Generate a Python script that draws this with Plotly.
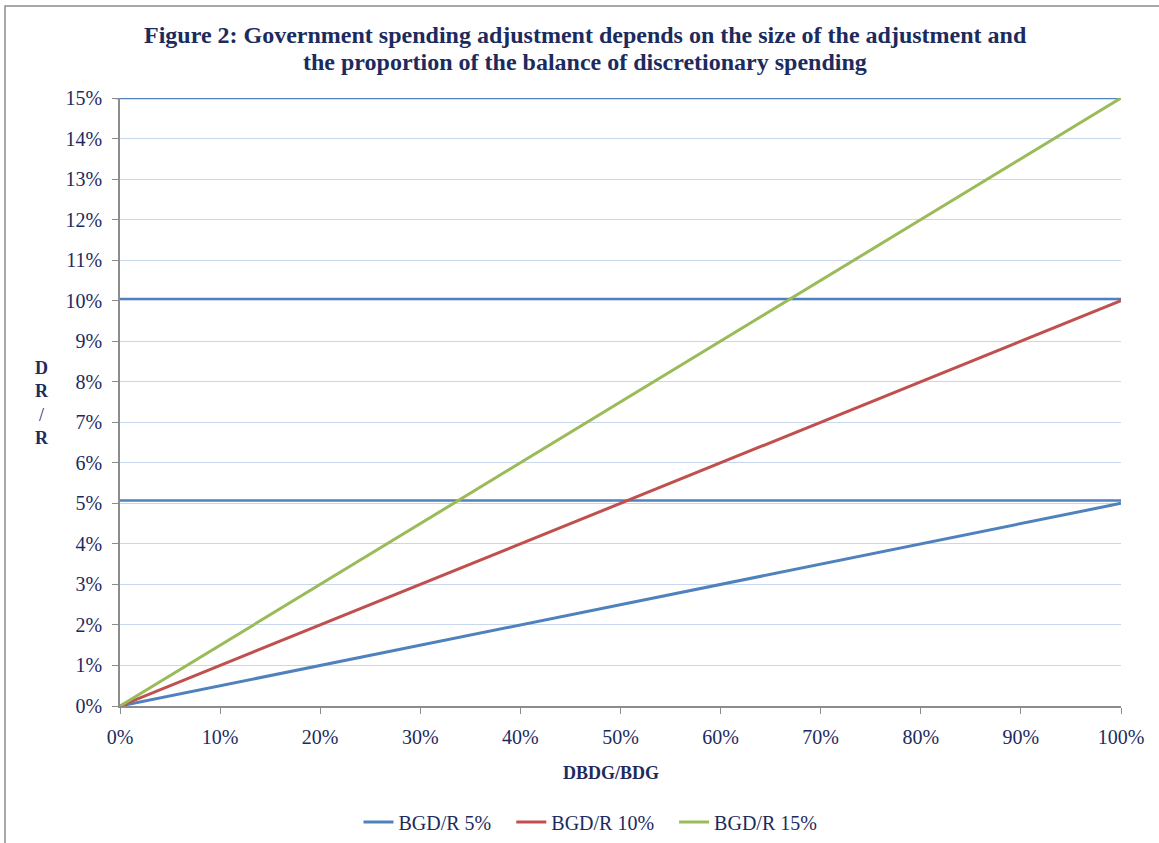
import plotly.graph_objects as go

# Data
x_share = [0.0, 0.1, 0.2, 0.3, 0.4, 0.5, 0.6, 0.7, 0.8, 0.9, 1.0]
bgd_5 = [0.0, 0.005, 0.01, 0.015, 0.02, 0.025, 0.03, 0.035, 0.04, 0.045, 0.05]
bgd_10 = [0.0, 0.01, 0.02, 0.03, 0.04, 0.05, 0.06, 0.07, 0.08, 0.09, 0.10]
bgd_15 = [0.0, 0.015, 0.03, 0.045, 0.06, 0.075, 0.09, 0.105, 0.12, 0.135, 0.15]
series_names = ["BGD/R 5%", "BGD/R 10%", "BGD/R 15%"]
ref_levels = [0.0507, 0.1004, 0.15]
x_ticks = [0.0, 0.1, 0.2, 0.3, 0.4, 0.5, 0.6, 0.7, 0.8, 0.9, 1.0]
x_tick_labels = ["0%", "10%", "20%", "30%", "40%", "50%", "60%", "70%", "80%", "90%", "100%"]
y_ticks = [i / 100 for i in range(16)]
y_tick_labels = [f"{i}%" for i in range(16)]
title_lines = [
    "Figure 2: Government spending adjustment depends on the size of the adjustment and",
    "the proportion of the balance of discretionary spending",
]

colors = ["#4F81BD", "#C0504D", "#9BBB59"]
text_color = "#1c2b5e"
font_family = "Liberation Serif, Times New Roman, serif"

fig = go.Figure()
for name, ys, c in zip(series_names, [bgd_5, bgd_10, bgd_15], colors):
    fig.add_trace(go.Scatter(x=x_share, y=ys, mode="lines",
                             name=name + "\u00a0\u00a0\u00a0",
                             line=dict(color=c, width=3), hoverinfo="skip"))

for lvl in ref_levels:
    x0 = -5 / 1001 if lvl >= 0.15 else 0
    fig.add_shape(type="line", xref="paper", yref="y", x0=x0, x1=1, y0=lvl, y1=lvl,
                  line=dict(color="#4F81BD", width=2.5), layer="below")

# outer border
fig.add_shape(type="rect", xref="paper", yref="paper",
              x0=(5 - 120) / 1001, x1=(1170 - 120) / 1001,
              y0=(706 - 860) / 608, y1=(706 - 6) / 608,
              line=dict(color="#8c8c8c", width=1.5), fillcolor="rgba(0,0,0,0)")

annotations = [
    dict(text="<b>" + title_lines[0] + "</b>", xref="paper", yref="paper",
         x=(585 - 120) / 1001, y=(706 - 35) / 608, xanchor="center", yanchor="middle",
         showarrow=False, font=dict(size=24, color=text_color)),
    dict(text="<b>" + title_lines[1] + "</b>", xref="paper", yref="paper",
         x=(585 - 120) / 1001, y=(706 - 62) / 608, xanchor="center", yanchor="middle",
         showarrow=False, font=dict(size=24, color=text_color)),
    dict(text="<b>DBDG/BDG</b>", xref="paper", yref="paper",
         x=(611 - 120) / 1001, y=(706 - 773) / 608, xanchor="center", yanchor="middle",
         showarrow=False, font=dict(size=18, color=text_color)),
    dict(text="<b>D<br>R<br></b>/<b><br>R</b>", xref="paper", yref="paper",
         x=(42 - 120) / 1001, y=(706 - 403) / 608, xanchor="center", yanchor="middle",
         showarrow=False, font=dict(size=18, color=text_color)),
]

fig.update_layout(
    width=1159, height=843,
    margin=dict(l=120, r=38, t=98, b=137, autoexpand=False),
    paper_bgcolor="white", plot_bgcolor="white",
    font=dict(family=font_family, color=text_color, size=20),
    showlegend=True,
    legend=dict(orientation="h", x=(598 - 120) / 1001, xanchor="center",
                y=(706 - 822) / 608, yanchor="middle",
                font=dict(size=20, color=text_color), itemwidth=30,
                tracegroupgap=0, bgcolor="rgba(0,0,0,0)"),
    xaxis=dict(range=[0, 1], tickvals=x_ticks, ticktext=x_tick_labels,
               showgrid=False, zeroline=False, showline=True, linecolor="#8c8c8c",
               linewidth=1.5, ticks="outside", ticklen=6, tickcolor="#8c8c8c",
               ticklabelstandoff=6, automargin=False,
               tickfont=dict(size=20, color=text_color), fixedrange=True),
    yaxis=dict(range=[0, 0.15], tickvals=y_ticks, ticktext=y_tick_labels,
               showgrid=True, gridcolor="#c9d7ee", gridwidth=1, zeroline=False,
               showline=True, linecolor="#8c8c8c", linewidth=1.5,
               ticks="outside", ticklen=6, tickcolor="#8c8c8c",
               ticklabelstandoff=6, automargin=False,
               tickfont=dict(size=20, color=text_color), fixedrange=True),
    annotations=annotations,
)

fig.write_html("out.html")
